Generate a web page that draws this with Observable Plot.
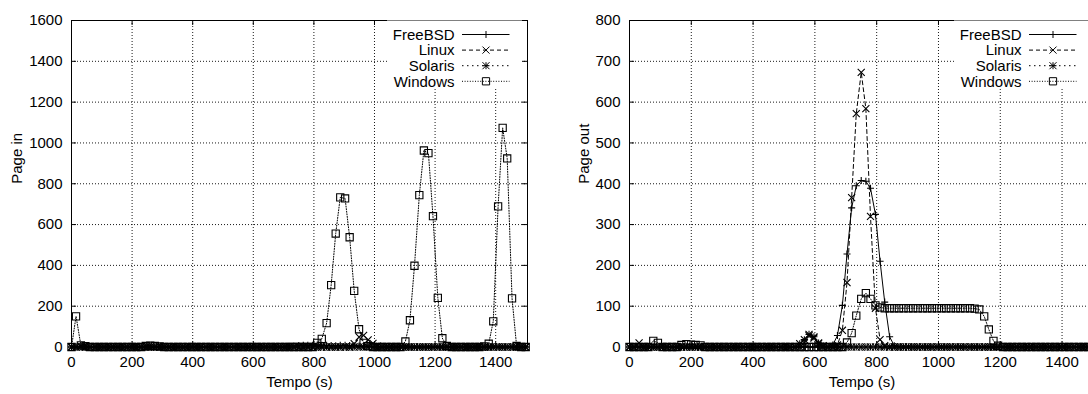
<!DOCTYPE html>
<html>
<head>
<meta charset="utf-8">
<script src="https://cdn.jsdelivr.net/npm/d3@7"></script>
<script src="https://cdn.jsdelivr.net/npm/@observablehq/plot@0.6"></script>
<style>
  html, body { margin: 0; padding: 0; background: #fff; width: 1088px; height: 394px; overflow: hidden; }
  #charts { display: flex; width: 1110px; }
  #charts > div { flex: none; }
</style>
</head>
<body>
<div id="charts"><div id="left"></div><div id="right"></div></div>
<script>
// Sample times (s), one vmstat reading roughly every 15 s
const tempo = [
  0, 15, 31, 46, 61, 77, 92, 107, 122, 138,
  153, 168, 184, 199, 214, 230, 245, 260, 275, 291,
  306, 321, 337, 352, 367, 383, 398, 413, 428, 444,
  459, 474, 490, 505, 520, 536, 551, 566, 581, 597,
  612, 627, 643, 658, 673, 689, 704, 719, 734, 750,
  765, 780, 796, 811, 826, 842, 857, 872, 887, 903,
  918, 933, 949, 964, 979, 995, 1010, 1025, 1040, 1056,
  1071, 1086, 1102, 1117, 1132, 1148, 1163, 1178, 1193, 1209,
  1224, 1239, 1255, 1270, 1285, 1301, 1316, 1331, 1346, 1362,
  1377, 1392, 1408, 1423, 1438, 1454, 1469, 1484, 1499
];

const seriesNames = ["FreeBSD", "Linux", "Solaris", "Windows"];

// Page in
const freebsdIn = [
  0, 0, 0, 0, 0, 0, 0, 0, 0, 0,
  0, 0, 0, 0, 0, 0, 0, 0, 0, 0,
  0, 0, 0, 0, 0, 0, 0, 0, 0, 0,
  0, 0, 0, 0, 0, 0, 0, 0, 0, 0,
  0, 0, 0, 0, 0, 0, 0, 3, 5, 7,
  8, 9, 8, 10, 9, 8, 7, 6, 8, 9,
  7, 6, 5, 4, 3, 2, 0, 0, 0, 0,
  0, 0, 0, 0, 0, 0, 0, 0, 0, 0,
  0, 0, 0, 0, 0, 0, 0, 0, 0, 0,
  0, 0, 0, 0, 0, 0, 0, 0, 0
];
const linuxIn = [
  0, 0, 0, 0, 0, 0, 0, 0, 0, 0,
  0, 0, 0, 0, 0, 0, 0, 0, 0, 0,
  0, 0, 0, 0, 0, 0, 0, 0, 0, 0,
  0, 0, 0, 0, 0, 0, 0, 0, 0, 0,
  0, 0, 0, 0, 0, 0, 0, 0, 0, 0,
  0, 0, 0, 0, 0, 0, 0, 0, 0, 0,
  0, 16, 49, 57, 35, 18, 4, 0, 0, 0,
  0, 0, 0, 0, 0, 0, 0, 0, 0, 0,
  0, 0, 0, 0, 0, 0, 0, 0, 0, 0,
  0, 0, 0, 0, 0, 0, 0, 0, 0
];
const solarisIn = [
  0, 0, 4, 0, 0, 0, 0, 0, 0, 0,
  0, 0, 0, 0, 0, 0, 0, 0, 0, 0,
  0, 0, 0, 0, 0, 0, 0, 0, 0, 0,
  0, 0, 0, 0, 0, 0, 0, 0, 0, 0,
  0, 0, 0, 0, 0, 0, 0, 0, 0, 0,
  0, 0, 0, 0, 0, 0, 0, 0, 0, 0,
  0, 0, 0, 0, 0, 0, 0, 0, 0, 0,
  0, 0, 0, 0, 0, 0, 0, 0, 0, 0,
  0, 0, 0, 0, 0, 0, 0, 0, 0, 0,
  0, 0, 0, 0, 0, 0, 0, 0, 0
];
const windowsIn = [
  0, 150, 8, 4, 0, 0, 0, 0, 0, 0,
  0, 0, 0, 0, 0, 0, 5, 6, 5, 3,
  0, 0, 0, 0, 0, 0, 0, 0, 0, 0,
  0, 0, 0, 0, 0, 0, 0, 0, 0, 0,
  0, 0, 0, 0, 0, 0, 0, 0, 0, 0,
  0, 0, 0, 20, 40, 117, 303, 556, 733, 728,
  538, 275, 87, 20, 4, 0, 0, 0, 0, 0,
  0, 0, 27, 131, 398, 744, 963, 950, 641, 241,
  43, 5, 0, 0, 0, 0, 0, 0, 0, 3,
  16, 126, 689, 1074, 924, 238, 5, 0, 0
];

// Page out
const freebsdOut = [
  0, 0, 0, 0, 0, 0, 0, 0, 0, 0,
  0, 0, 0, 0, 0, 0, 0, 0, 0, 0,
  0, 0, 0, 0, 0, 0, 0, 0, 0, 0,
  0, 0, 0, 0, 0, 0, 0, 0, 0, 0,
  0, 0, 0, 5, 28, 102, 228, 341, 395, 408,
  406, 389, 325, 210, 110, 25, 3, 0, 0, 0,
  0, 0, 0, 0, 0, 0, 0, 0, 0, 0,
  0, 0, 0, 0, 0, 0, 0, 0, 0, 0,
  0, 0, 0, 0, 0, 0, 0, 0, 0, 0,
  0, 0, 0, 0, 0, 0, 0, 0, 0
];
const linuxOut = [
  0, 0, 10, 0, 0, 0, 0, 0, 0, 0,
  0, 0, 0, 0, 0, 0, 0, 0, 0, 0,
  0, 0, 0, 0, 0, 0, 0, 0, 0, 0,
  0, 0, 0, 0, 0, 0, 0, 10, 28, 22,
  8, 0, 0, 0, 5, 41, 158, 366, 572, 673,
  584, 320, 95, 18, 3, 0, 0, 0, 0, 0,
  0, 0, 0, 0, 0, 0, 0, 0, 0, 0,
  0, 0, 0, 0, 0, 0, 0, 0, 0, 0,
  0, 0, 0, 0, 0, 0, 0, 0, 0, 0,
  0, 0, 0, 0, 0, 0, 0, 0, 0
];
const solarisOut = [
  0, 0, 0, 0, 0, 0, 0, 0, 0, 0,
  0, 0, 0, 0, 0, 0, 0, 0, 0, 0,
  0, 0, 0, 0, 0, 0, 0, 0, 0, 0,
  0, 0, 0, 0, 0, 0, 8, 18, 31, 25,
  10, 3, 0, 0, 0, 0, 0, 0, 0, 0,
  0, 0, 0, 0, 0, 0, 0, 0, 0, 0,
  0, 0, 0, 0, 0, 0, 0, 0, 0, 0,
  0, 0, 0, 0, 0, 0, 0, 0, 0, 0,
  0, 0, 0, 0, 0, 0, 0, 0, 0, 0,
  0, 0, 0, 0, 0, 0, 0, 0, 0
];
const windowsOut = [
  0, 0, 0, 0, 0, 15, 10, 0, 0, 0,
  0, 5, 7, 6, 5, 4, 0, 0, 0, 0,
  0, 0, 0, 0, 0, 0, 0, 0, 0, 0,
  0, 0, 0, 0, 0, 0, 0, 0, 0, 0,
  0, 0, 0, 0, 0, 0, 11, 34, 77, 118,
  132, 118, 102, 97, 95, 95, 95, 95, 95, 95,
  95, 95, 95, 95, 95, 95, 95, 95, 95, 95,
  95, 95, 95, 94, 92, 75, 43, 15, 3, 0,
  0, 0, 0, 0, 0, 0, 0, 0, 0, 0,
  0, 0, 0, 0, 0, 0, 0, 0, 0
];

// Axis ticks
const xTicks = [0, 200, 400, 600, 800, 1000, 1200, 1400];
const yTicksIn = [0, 200, 400, 600, 800, 1000, 1200, 1400, 1600];
const yTicksOut = [0, 100, 200, 300, 400, 500, 600, 700, 800];

// gnuplot-like line types: solid/+, dashed/x, short dashes/*, dotted/square
const lineStyle = {
  FreeBSD: {dash: null, symbols: [["plus", 2.4]]},
  Linux: {dash: "4,3", symbols: [["times", 3.3]]},
  Solaris: {dash: "1.5,3.5", symbols: [["plus", 2.4], ["times", 3.3]]},
  Windows: {dash: "1,1.6", symbols: [["square2", 4.6]]}
};
const d3Symbols = {plus: d3.symbolPlus, times: d3.symbolTimes, square2: d3.symbolSquare2};

const HEIGHT = 394, MT = 20, MB = 47.5;
const FONT = "'Liberation Sans', Arial, Helvetica, sans-serif";

function panel({values, yDomain, yTicks, yLabel, width, marginLeft, marginRight, labelDx}) {
  const innerW = width - marginLeft - marginRight;
  const innerH = HEIGHT - MT - MB;
  const fmt = d => String(d);
  const marks = [
    Plot.gridX(xTicks, {stroke: "#1a1a1a", strokeOpacity: 1, strokeDasharray: "1,2"}),
    Plot.gridY(yTicks, {stroke: "#1a1a1a", strokeOpacity: 1, strokeDasharray: "1,2"}),
    // inward tick marks on all four sides
    Plot.tickX(xTicks, {x: d => d, insetTop: innerH - 5, stroke: "black"}),
    Plot.tickX(xTicks, {x: d => d, insetBottom: innerH - 5, stroke: "black"}),
    Plot.tickY(yTicks, {y: d => d, insetRight: innerW - 5, stroke: "black"}),
    Plot.tickY(yTicks, {y: d => d, insetLeft: innerW - 5, stroke: "black"}),
    Plot.axisX(xTicks, {tickSize: 0, tickPadding: 9, tickFormat: fmt, label: null, fontSize: 15}),
    Plot.axisY(yTicks, {tickSize: 0, tickPadding: 9, tickFormat: fmt, label: null, fontSize: 15}),
    Plot.text(["Tempo (s)"], {frameAnchor: "bottom", dy: 40, fontSize: 15}),
    Plot.text([yLabel], {frameAnchor: "left", dx: labelDx, rotate: -90, fontSize: 15})
  ];
  seriesNames.forEach((name, i) => {
    const data = values[i].map((v, k) => ({t: tempo[k], v}));
    const st = lineStyle[name];
    marks.push(Plot.line(data, {x: "t", y: "v", stroke: "black", strokeWidth: 1, strokeDasharray: st.dash}));
    st.symbols.forEach(([sym, r]) => {
      marks.push(Plot.dot(data, {x: "t", y: "v", symbol: sym, r, stroke: "black", strokeWidth: 1.1, fill: "none"}));
    });
  });
  marks.push(Plot.frame({stroke: "black", strokeWidth: 1}));

  const svg = Plot.plot({
    width, height: HEIGHT,
    marginTop: MT, marginBottom: MB, marginLeft, marginRight,
    x: {domain: [0, 1505], axis: null},
    y: {domain: yDomain, axis: null},
    style: {fontFamily: FONT, fontSize: "15px", color: "black", background: "white", overflow: "visible"},
    marks
  });

  // key, top right inside the frame
  const right = width - marginRight;
  const g = d3.select(svg).append("g").attr("font-family", FONT).attr("font-size", 15);
  g.append("rect")
    .attr("x", right - 140).attr("y", MT + 0.5)
    .attr("width", 135).attr("height", 67.5)
    .attr("fill", "white");
  seriesNames.forEach((name, i) => {
    const y = MT + 14.5 + 15.6 * i;
    const st = lineStyle[name];
    g.append("text").attr("x", right - 72.5).attr("y", y).attr("dy", "0.35em")
      .attr("text-anchor", "end").attr("fill", "black").text(name);
    g.append("line").attr("x1", right - 65).attr("x2", right - 17.5)
      .attr("y1", y).attr("y2", y).attr("stroke", "black").attr("stroke-width", 1)
      .attr("stroke-dasharray", st.dash);
    st.symbols.forEach(([sym, r]) => {
      g.append("path")
        .attr("d", d3.symbol(d3Symbols[sym], Math.PI * r * r)())
        .attr("transform", `translate(${right - 41},${y})`)
        .attr("fill", "none").attr("stroke", "black").attr("stroke-width", 1);
    });
  });
  return svg;
}

document.getElementById("left").append(panel({
  values: [freebsdIn, linuxIn, solarisIn, windowsIn],
  yDomain: [0, 1600], yTicks: yTicksIn, yLabel: "Page in",
  width: 545, marginLeft: 71, marginRight: 18, labelDx: -54
}));
document.getElementById("right").append(panel({
  values: [freebsdOut, linuxOut, solarisOut, windowsOut],
  yDomain: [0, 800], yTicks: yTicksOut, yLabel: "Page out",
  width: 560, marginLeft: 84, marginRight: 11, labelDx: -45
}));
</script>
</body>
</html>
